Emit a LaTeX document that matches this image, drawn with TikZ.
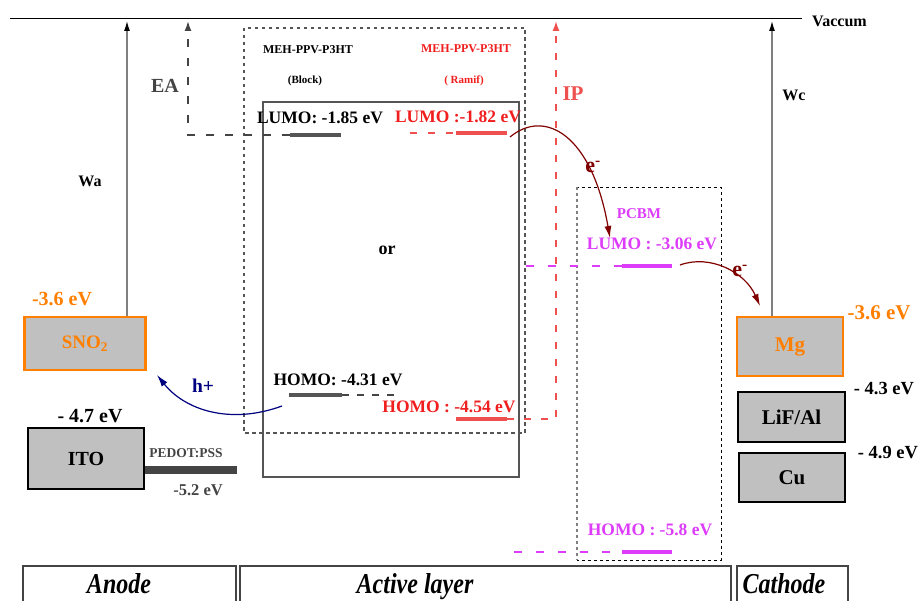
\documentclass[tikz,border=0pt]{standalone}
\usepackage{fontspec}
\setmainfont{Liberation Serif}
\usetikzlibrary{arrows.meta}
\definecolor{orng}{RGB}{255,128,0}
\definecolor{boxgray}{RGB}{192,192,192}
\definecolor{myred}{RGB}{240,30,30}
\definecolor{ipred}{RGB}{238,80,80}
\definecolor{mag}{RGB}{221,60,250}
\definecolor{dred}{RGB}{128,0,0}
\definecolor{navyb}{RGB}{0,0,128}
\definecolor{lvl}{RGB}{85,85,85}
\definecolor{darkg}{RGB}{68,68,68}
\tikzset{
  txt/.style={inner sep=0pt, anchor=base, font=\bfseries\fontsize{#1}{#1}\selectfont},
  matbox/.style={draw=black, line width=2.5pt, fill=boxgray, inner sep=0pt, font=\bfseries\fontsize{20}{20}\selectfont},
  orbox/.style={draw=orng, line width=2.5pt, fill=boxgray, inner sep=0pt, text=orng, font=\bfseries\fontsize{20}{20}\selectfont},
  levelbar/.style={line width=4pt},
  wline/.style={draw=gray, line width=1.2pt, -{Latex[length=10pt,width=6pt,color=black]}},
  tr/.style={dred, line width=1.2pt, -{Latex[length=12pt,width=7pt]}},
  bottombox/.style={draw=darkg, line width=1.3pt},
  btxt/.style={inner sep=0pt, anchor=base, font=\bfseries\itshape\fontsize{24}{24}\selectfont},
}
\begin{document}
\begin{tikzpicture}[x=1pt,y=-1pt]
\useasboundingbox (0,0) rectangle (921,601);
\fill[white] (0,0) rectangle (921,601);

% vacuum level
\coordinate (vacL) at (10,19);
\coordinate (vacR) at (802,19);
\draw[line width=1pt] (vacL) -- (vacR);
\node[txt=16, anchor=base west] (vac) at (812,27) {Vaccum};

% active-layer boxes
\draw[draw=lvl, line width=1.4pt, dash pattern=on 3.5pt off 3.5pt] (244,28) rectangle (525,433);
\draw[draw=lvl, line width=1.2pt] (263,102) rectangle (519,477);
\draw[black, line width=0.8pt, dash pattern=on 3pt off 3pt] (577,187) rectangle (721,560);
\draw[draw=gray, line width=1.4pt, dash pattern=on 3pt off 3pt] (577,187) -- (577,560);

% anode materials
\node[orbox, minimum width=121pt, minimum height=53pt] (sno2) at (85,343.5) {\fontsize{19}{19}\selectfont SNO\textsubscript{2}};
\node[matbox, minimum width=116pt, minimum height=61pt] (ito) at (86,458.5) {ITO};
\node[txt=20, text=orng] (sno2v) at (62,306) {-3.6 eV};
\node[txt=20] (itov) at (90,422) {- 4.7 eV};
\coordinate (pedA) at (145,470);
\coordinate (pedB) at (237,470);
\draw[darkg, line width=8pt] (pedA) -- (pedB);
\node[txt=13.5, text=darkg] (pedt) at (186,457) {PEDOT:PSS};
\node[txt=16.5, text=darkg] (pedv) at (198,495) {-5.2 eV};

% cathode materials
\node[orbox, minimum width=106pt, minimum height=59pt, font=\bfseries\fontsize{21}{21}\selectfont] (mg) at (790,346.5) {Mg};
\node[matbox, minimum width=107pt, minimum height=50pt, font=\bfseries\fontsize{21}{21}\selectfont] (lif) at (791.5,417) {LiF/Al};
\node[matbox, minimum width=106pt, minimum height=49pt, font=\bfseries\fontsize{21}{21}\selectfont] (cu) at (792,477.5) {Cu};
\node[txt=21, text=orng] (mgv) at (879,320) {-3.6 eV};
\node[txt=18.5] (lifv) at (884,395) {- 4.3 eV};
\node[txt=18.5] (cuv) at (888,458) {- 4.9 eV};

% work functions
\coordinate (waTop) at (127,21);
\coordinate (wcTop) at (772,21);
\draw[wline] (sno2.north -| waTop) -- (waTop);
\draw[wline] (mg.north -| wcTop) -- (wcTop);
\node[txt=16] (wa) at (90,187) {Wa};
\node[txt=16] (wc) at (794,101) {Wc};

% polymer titles
\node[txt=12] (t1) at (308,54) {MEH-PPV-P3HT};
\node[txt=11] (t2) at (305,84) {(Block)};
\node[txt=12, text=myred] (t3) at (466,53) {MEH-PPV-P3HT};
\node[txt=11, text=myred] (t4) at (464,84) {( Ramif)};
\node[txt=18] (or) at (387,255) {or};

% block copolymer levels
\coordinate (bL1) at (290,135);
\coordinate (bL2) at (341,135);
\coordinate (eaC) at (188,135);
\coordinate (eaTop) at (188,21);
\draw[darkg, line width=1.6pt, dash pattern=on 8pt off 11pt, -{Latex[length=10pt,width=7pt]}] (bL1) -- (eaC) -- (eaTop);
\draw[lvl, levelbar] (bL1) -- (bL2);
\node[txt=17.5] (bLt) at (320,124) {LUMO: -1.85 eV};
\node[txt=20, text=darkg] (ea) at (165,93) {EA};

\coordinate (bH1) at (289,395);
\coordinate (bH2) at (342,395);
\coordinate (bHd) at (398,395);
\draw[darkg, line width=1.6pt, dash pattern=on 7pt off 8pt] (bH2) -- (bHd);
\draw[lvl, levelbar] (bH1) -- (bH2);
\node[txt=17.5] (bHt) at (338,385) {HOMO: -4.31 eV};

% branched copolymer levels
\coordinate (rL1) at (456,133);
\coordinate (rL2) at (507,133);
\coordinate (rLd) at (410,133);
\draw[ipred, line width=1.6pt, dash pattern=on 7pt off 11pt] (rLd) -- (rL1);
\draw[ipred, levelbar] (rL1) -- (rL2);
\node[txt=17.5, text=myred] (rLt) at (458,123) {LUMO :-1.82 eV};

\coordinate (rH1) at (456,419);
\coordinate (rH2) at (507,419);
\coordinate (ipC) at (556,419);
\coordinate (ipTop) at (556,21);
\draw[ipred, line width=1.6pt, dash pattern=on 7pt off 10pt, -{Latex[length=10pt,width=7pt]}] (rH2) -- (ipC) -- (ipTop);
\draw[ipred, levelbar] (rH1) -- (rH2);
\node[txt=17.5, text=myred] (rHt) at (449,413) {HOMO : -4.54 eV};
\node[txt=21, text=ipred] (ip) at (573,101) {IP};

% PCBM levels
\node[txt=15, text=mag] (pcbm) at (639,219) {PCBM};
\coordinate (mL1) at (622,266);
\coordinate (mL2) at (672,266);
\coordinate (mLd) at (526,266);
\draw[mag, line width=2.5pt, dash pattern=on 8pt off 14pt] (mLd) -- (mL1);
\draw[mag, levelbar] (mL1) -- (mL2);
\node[txt=17.5, text=mag] (mLt) at (652,250) {LUMO : -3.06 eV};

\coordinate (mH1) at (622,552);
\coordinate (mH2) at (672,552);
\coordinate (mHd) at (514,552);
\draw[mag, line width=2.5pt, dash pattern=on 8pt off 14pt] (mHd) -- (mH1);
\draw[mag, levelbar] (mH1) -- (mH2);
\node[txt=17.5, text=mag] (mHt) at (650,535) {HOMO : -5.8 eV};

% charge transfer arrows
\coordinate (e1s) at (510,137);
\coordinate (e1e) at (610,238);
\draw[tr] (e1s) .. controls (545,108) and (592,135) .. (e1e);
\node[txt=22, text=dred] (e1) at (593,173) {e\textsuperscript{-}};
\coordinate (e2s) at (680,265);
\coordinate (e2e) at (760,306);
\draw[tr] (e2s) .. controls (710,254) and (745,272) .. (e2e);
\node[txt=22, text=dred] (e2) at (740,277) {e\textsuperscript{-}};
\coordinate (hs) at (282,406);
\coordinate (he) at (157,375);
\draw[navyb, line width=1.2pt, -{Latex[length=12pt,width=7pt]}] (hs) .. controls (230,425) and (185,410) .. (he);
\node[txt=19.5, text=navyb] (hp) at (203,393) {h+};

% bottom legend
\draw[bottombox] (23,566) rectangle (236,610);
\draw[bottombox] (240,566) rectangle (731,610);
\draw[bottombox] (737,566) rectangle (848,610);
\node[btxt] (an) at (119,593) {\scalebox{1}[1.2]{Anode}};
\node[btxt] (al) at (415,593) {\scalebox{1}[1.2]{Active layer}};
\node[btxt] (ca) at (784,593) {\scalebox{1}[1.2]{Cathode}};
\end{tikzpicture}
\end{document}
